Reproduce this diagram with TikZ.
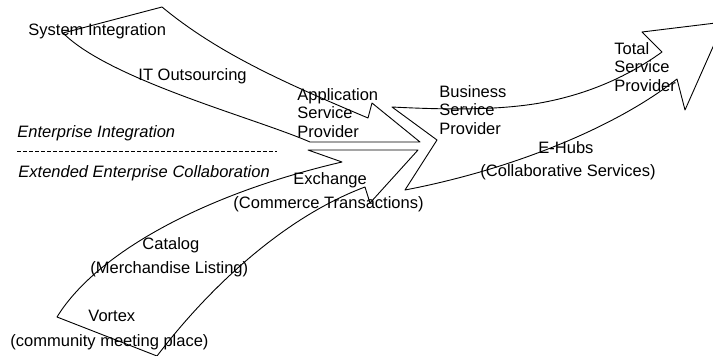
\documentclass[tikz,border=0pt]{standalone}
\usepackage{fontspec}
\setmainfont{Liberation Sans}
\begin{document}
\begin{tikzpicture}[x=1pt,y=-1pt,line join=round,line width=0.9pt,
    lbl/.style={anchor=base west,inner sep=0pt,align=left,
      font=\fontsize{16.5}{18.5}\selectfont},
    side/.style={lbl,font=\fontsize{16.5}{18.5}\selectfont\itshape}]
    \useasboundingbox (0,0) rectangle (713,356);
    \clip (0,0) rectangle (713,356);
      \draw
        (162,7) .. controls (220,55) and (290,85) .. (368,118) --
        (372,103) -- (420,142) -- (310,142)
        .. controls (255,118) and (110,80) .. (63,33) -- cycle;
      \draw
        (57,317) .. controls (95,255) and (200,195) .. (342,162) --
        (308,150) -- (418,150) -- (370,203) -- (365,187)
        .. controls (290,215) and (215,280) .. (157,356) -- cycle;
      \draw
        (392,107) .. controls (450,110) and (500,110) .. (540,103)
        .. controls (590,94) and (630,75) .. (662,52) --
        (642,32) -- (724,22) -- (685,110) -- (677,79)
        .. controls (615,128) and (510,170) .. (405,190) --
        (437,140) -- cycle;
      \draw[dash pattern=on 4pt off 2pt,line width=0.7pt] (17,151) -- (277,151);
      \node[lbl] (sysint) at (28,35) {System Integration};
      \node[lbl] (itout) at (138,80) {IT Outsourcing};
      \node[side] (entint) at (17,137) {Enterprise Integration};
      \node[side] (extcol) at (18,177) {Extended Enterprise Collaboration};
      \node[lbl] (asp) at (297,137) {Application\\Service\\Provider};
      \node[lbl] (bsp) at (439,134) {Business\\Service\\Provider};
      \node[lbl] (tsp) at (614,91) {Total\\Service\\Provider};
      \node[lbl] (ehubs) at (538,153) {E-Hubs};
      \node[lbl] (collab) at (480,176) {(Collaborative Services)};
      \node[lbl] (exch) at (293,184) {Exchange};
      \node[lbl] (commerce) at (233,208) {(Commerce Transactions)};
      \node[lbl] (catalog) at (142,249) {Catalog};
      \node[lbl] (merch) at (90,273) {(Merchandise Listing)};
      \node[lbl] (vortex) at (88,321) {Vortex};
      \node[lbl] (meeting) at (10,346) {(community meeting place)};
\end{tikzpicture}
\end{document}
